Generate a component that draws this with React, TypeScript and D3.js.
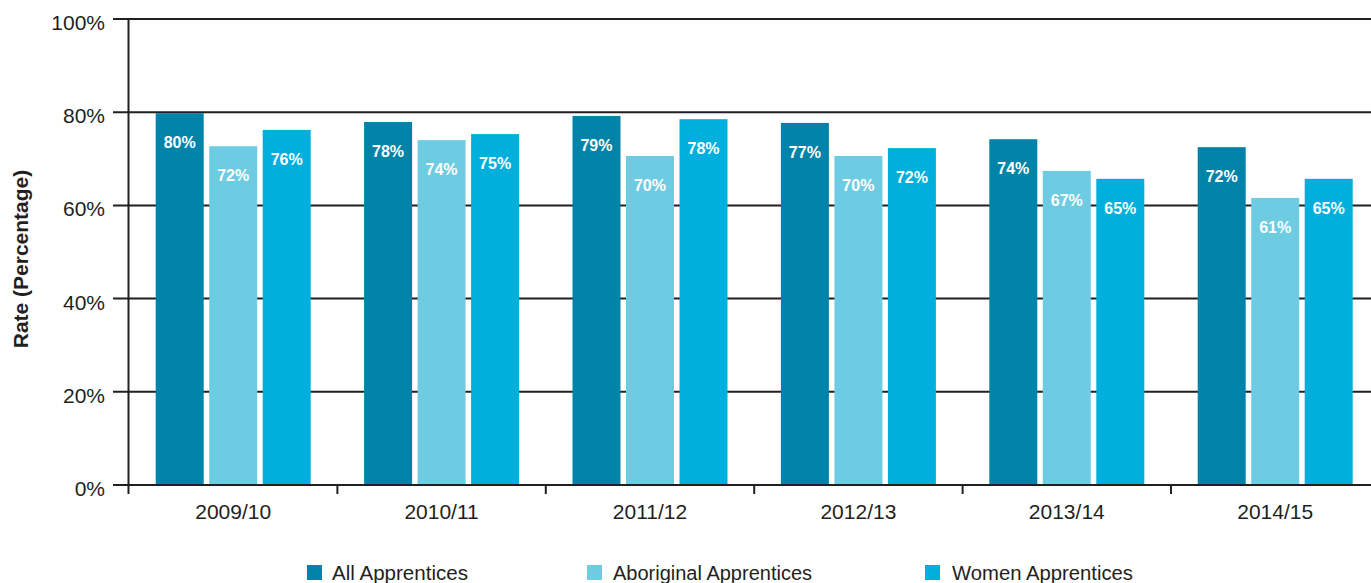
import React from "react";
import * as d3 from "d3";

const categories = ["2009/10", "2010/11", "2011/12", "2012/13", "2013/14", "2014/15"];
const seriesNames = ["All Apprentices", "Aboriginal Apprentices", "Women Apprentices"];
const allValues = [79.8, 77.9, 79.2, 77.7, 74.2, 72.5];
const aboriginalValues = [72.7, 74.0, 70.6, 70.6, 67.4, 61.6];
const womenValues = [76.2, 75.3, 78.5, 72.3, 65.7, 65.7];
const allLabels = ["80%", "78%", "79%", "77%", "74%", "72%"];
const aboriginalLabels = ["72%", "74%", "70%", "70%", "67%", "61%"];
const womenLabels = ["76%", "75%", "78%", "72%", "65%", "65%"];
const yTicks = [0, 20, 40, 60, 80, 100];
const yTickLabels = ["0%", "20%", "40%", "60%", "80%", "100%"];

const colors = ["#0083a9", "#6ecce2", "#00afdb"];
const seriesValues = [allValues, aboriginalValues, womenValues];
const seriesLabels = [allLabels, aboriginalLabels, womenLabels];

const W = 1371;
const H = 583;
const FONT = "Arial, 'Liberation Sans', Helvetica, sans-serif";
const INK = "#231f20";

export default function App() {
  const x0 = d3.scaleBand<string>().domain(categories).range([129, 129 + 6 * 208.4]).padding(0);
  const bw0 = x0.bandwidth();
  const x1 = d3
    .scaleBand<string>()
    .domain(seriesNames)
    .range([bw0 / 2 - 77.5, bw0 / 2 + 77.5])
    .paddingInner(0.103);
  const y = d3.scaleLinear().domain([0, 100]).range([485, 19]);

  const legendX = [307, 587, 925];
  const legendTextX = [332, 613, 952];
  const legendTextLen = [136, 199, 181];

  return (
    <svg
      width={W}
      height={H}
      style={{ position: "absolute", left: 0, top: 0, display: "block", background: "#fff" }}
    >
      {yTicks.map((t) => (
        <line key={"g" + t} x1={113} x2={W} y1={y(t)} y2={y(t)} stroke={INK} strokeWidth={2} />
      ))}
      {yTicks.map((t, i) => (
        <text
          key={"yl" + t}
          x={105}
          y={y(t) + 11}
          textAnchor="end"
          fontFamily={FONT}
          fontSize={21}
          fill={INK}
        >
          {yTickLabels[i]}
        </text>
      ))}
      {categories.map((c, ci) => (
        <g key={c} transform={`translate(${x0(c)},0)`}>
          {seriesNames.map((s, si) => {
            const v = seriesValues[si][ci];
            const bx = x1(s)!;
            return (
              <g key={s}>
                <rect x={bx} y={y(v)} width={x1.bandwidth()} height={y(0) - y(v)} fill={colors[si]} />
                <text
                  x={bx + x1.bandwidth() / 2}
                  y={y(v) + 35}
                  textAnchor="middle"
                  fontFamily={FONT}
                  fontWeight="bold"
                  fontSize={16}
                  fill="#fff"
                >
                  {seriesLabels[si][ci]}
                </text>
              </g>
            );
          })}
        </g>
      ))}
      <line x1={113} x2={W} y1={y(0)} y2={y(0)} stroke={INK} strokeWidth={2} />
      <line x1={128.5} x2={128.5} y1={y(100) - 1} y2={494} stroke={INK} strokeWidth={2} />
      {categories.map((c, i) =>
        i === 0 ? null : (
          <line key={"xt" + c} x1={x0(c)!} x2={x0(c)!} y1={y(0)} y2={494} stroke={INK} strokeWidth={2} />
        )
      )}
      {categories.map((c) => (
        <text
          key={"xl" + c}
          x={x0(c)! + bw0 / 2}
          y={519}
          textAnchor="middle"
          fontFamily={FONT}
          fontSize={21}
          fill={INK}
        >
          {c}
        </text>
      ))}
      <text
        transform="translate(28,259) rotate(-90)"
        textAnchor="middle"
        fontFamily={FONT}
        fontWeight="bold"
        fontSize={21}
        fill={INK}
      >
        Rate (Percentage)
      </text>
      {seriesNames.map((s, i) => (
        <g key={"lg" + s}>
          <rect x={legendX[i]} y={565} width={15} height={15} fill={colors[i]} />
          <text
            x={legendTextX[i]}
            y={580}
            fontFamily={FONT}
            fontSize={20}
            fill={INK}
            textLength={legendTextLen[i]}
            lengthAdjust="spacingAndGlyphs"
          >
            {s}
          </text>
        </g>
      ))}
    </svg>
  );
}
